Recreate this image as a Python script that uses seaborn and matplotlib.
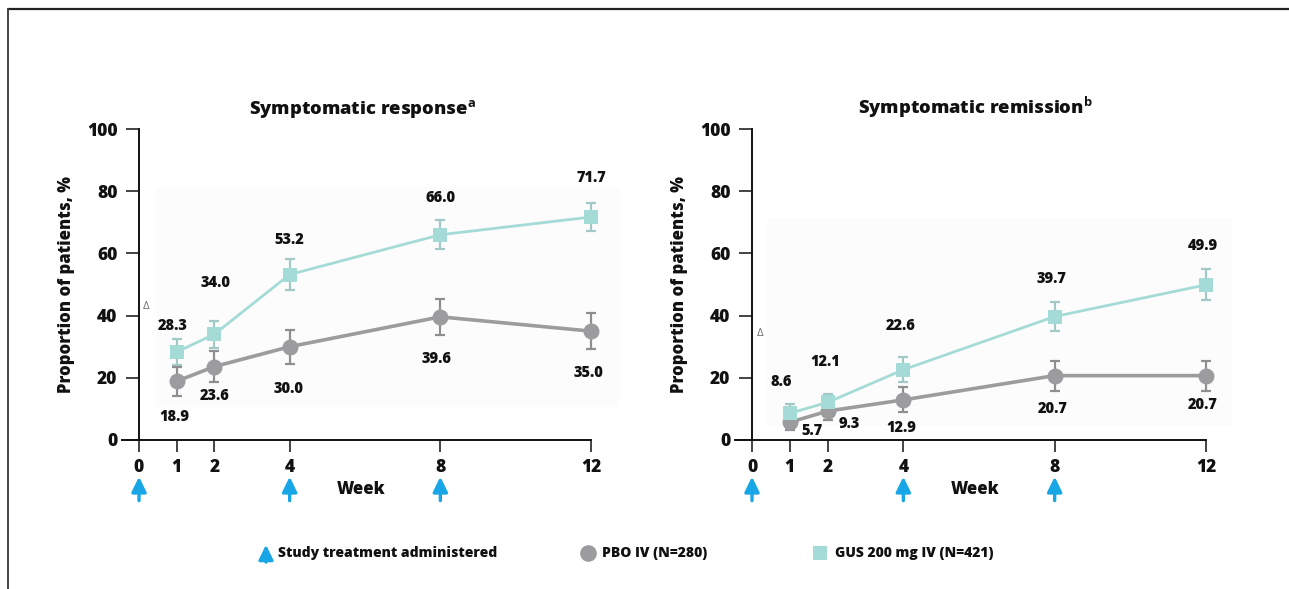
import matplotlib
matplotlib.use('Agg')
import matplotlib.pyplot as plt
import seaborn as sns
import pandas as pd
from matplotlib.lines import Line2D
from matplotlib.patches import Rectangle, FancyArrowPatch

# ---------------- data ----------------
weeks = [1, 2, 4, 8, 12]
tick_weeks = [0, 1, 2, 4, 8, 12]
dose_weeks = [0, 4, 8]
yticks = [0, 20, 40, 60, 80, 100]

resp_gus = [28.3, 34.0, 53.2, 66.0, 71.7]
resp_gus_err = [4.3, 4.3, 5.0, 4.7, 4.5]
resp_pbo = [18.9, 23.6, 30.0, 39.6, 35.0]
resp_pbo_err = [4.7, 5.0, 5.5, 5.8, 5.7]

rem_gus = [8.6, 12.1, 22.6, 39.7, 49.9]
rem_gus_err = [3.0, 2.8, 4.0, 4.8, 5.0]
rem_pbo = [5.7, 9.3, 12.9, 20.7, 20.7]
rem_pbo_err = [2.5, 3.0, 4.0, 4.8, 4.8]

titles = ['Symptomatic response', 'Symptomatic remission']
title_marks = ['a', 'b']
series_names = ['PBO IV (N=280)', 'GUS 200 mg IV (N=421)']
arrow_label = 'Study treatment administered'
x_label = 'Week'
y_label = 'Proportion of patients, %'
delta_sign = '\u0394'

# label offsets (pixels, dx, dy up) -- layout only
resp_gus_off = [(-4, 26), (1, 51), (0, 35), (0, 37), (0, 39)]
resp_pbo_off = [(-2, -36), (0, -29), (-1, -42), (-4, -42), (-3, -42)]
rem_gus_off = [(-9, 31), (-2, 40), (-3, 44), (-3, 38), (-3, 39)]
rem_pbo_off = [(22, -9), (22, -13), (-2, -28), (-2, -33), (-3, -29)]

# ---------------- style ----------------
sns.set_style('white')
plt.rcParams['font.family'] = ['Open Sans', 'DejaVu Sans']
plt.rcParams['font.weight'] = 'bold'
plt.rcParams['mathtext.fontset'] = 'custom'
plt.rcParams['mathtext.bf'] = 'Open Sans:bold'
plt.rcParams['mathtext.rm'] = 'Open Sans:bold'

GUS_C = '#a5dbd7'
GUS_ERR = '#a3c9c6'
PBO_C = '#9c9c9e'
PBO_ERR = '#8f8f91'
ARROW_C = '#19a6e6'
TXT = '#111111'
WT = 'heavy'

W, H = 1289, 589
fig = plt.figure(figsize=(W / 100, H / 100), dpi=100)
fig.patch.set_facecolor('white')


def fx(px):
    return px / W


def fy(py):
    return 1 - py / H


panels = [
    dict(left=122, y0px=139, right=591, gus=resp_gus, gerr=resp_gus_err, pbo=resp_pbo, perr=resp_pbo_err,
         goff=resp_gus_off, poff=resp_pbo_off, title=titles[0], mark=title_marks[0], tx=0.513,
         bg=(0.45, 10.5, 12.3, 71), delta=(0.19, 43)),
    dict(left=735, y0px=752, right=1206, gus=rem_gus, gerr=rem_gus_err, pbo=rem_pbo, perr=rem_pbo_err,
         goff=rem_gus_off, poff=rem_pbo_off, title=titles[1], mark=title_marks[1], tx=0.51,
         bg=(0.4, 4.5, 12.3, 67), delta=(0.23, 34.4)),
]

for p in panels:
    ax = fig.add_axes([fx(p['left']), fy(440), fx(p['right'] - p['left']), 311 / H])
    ppw = (p['right'] - p['y0px']) / 12.0
    xmin = -(p['y0px'] - p['left']) / ppw
    ax.set_xlim(xmin, 12)
    ax.set_ylim(0, 100)
    ax.set_facecolor('none')

    bx, by, bw, bh = p['bg']
    ax.add_patch(Rectangle((bx, by), bw, bh, facecolor='#fcfcfc', edgecolor='none', zorder=0, clip_on=False))

    df = pd.DataFrame({
        'week': weeks * 2,
        'value': p['pbo'] + p['gus'],
        'group': [series_names[0]] * len(weeks) + [series_names[1]] * len(weeks),
    })

    # error bars
    ax.errorbar(weeks, p['gus'], yerr=p['gerr'], fmt='none', ecolor=GUS_ERR, elinewidth=1.6,
                capsize=3.5, capthick=1.6, zorder=2, clip_on=False)
    ax.errorbar(weeks, p['pbo'], yerr=p['perr'], fmt='none', ecolor=PBO_ERR, elinewidth=1.6,
                capsize=3.5, capthick=1.6, zorder=2, clip_on=False)

    sns.lineplot(data=df[df.group == series_names[0]], x='week', y='value', ax=ax, color=PBO_C,
                 lw=2.6, marker='o', markersize=11.5, markeredgewidth=0, legend=False, zorder=3, clip_on=False)
    sns.lineplot(data=df[df.group == series_names[1]], x='week', y='value', ax=ax, color=GUS_C,
                 lw=2.0, marker='s', markersize=10, markeredgewidth=0, legend=False, zorder=4, clip_on=False)

    for x, v, (dx, dy) in zip(weeks, p['gus'], p['goff']):
        ax.annotate(f'{v:.1f}', xy=(x, v), xytext=(dx, dy), textcoords='offset pixels',
                    ha='center', va='center', fontsize=10.5, fontweight=WT, color=TXT, zorder=6,
                    annotation_clip=False)
    for x, v, (dx, dy) in zip(weeks, p['pbo'], p['poff']):
        ax.annotate(f'{v:.1f}', xy=(x, v), xytext=(dx, dy), textcoords='offset pixels',
                    ha='center', va='center', fontsize=10.5, fontweight=WT, color=TXT, zorder=6,
                    annotation_clip=False)

    dxp, dyp = p['delta']
    ax.text(dxp, dyp, delta_sign, fontsize=7, color='#777777', fontweight='normal',
            family=['DejaVu Sans'], ha='center', va='center')

    # spines / ticks
    sns.despine(ax=ax)
    ax.spines['left'].set_position(('data', 0))
    ax.spines['left'].set_linewidth(1.4)
    ax.spines['bottom'].set_linewidth(1.4)
    ax.spines['left'].set_color(TXT)
    ax.spines['bottom'].set_color(TXT)
    ax.set_xticks(tick_weeks)
    ax.set_xticklabels([str(t) for t in tick_weeks])
    ax.set_yticks(yticks)
    ax.set_yticklabels([str(t) for t in yticks])
    ax.tick_params(axis='y', direction='out', length=9.5, width=1.1, pad=6, labelsize=12.5, colors=TXT, left=True)
    ax.tick_params(axis='x', direction='out', length=8.5, width=1.1, pad=5, labelsize=12.5, colors=TXT, bottom=True)
    for lab in ax.get_xticklabels() + ax.get_yticklabels():
        lab.set_fontweight(WT)

    ax.set_xlabel('')
    ax.set_ylabel(y_label, fontsize=12, fontweight=WT, color=TXT)
    ax.yaxis.set_label_coords(-0.1, 0.5)

    ax.annotate(x_label, xy=(5.9, 0), xycoords=('data', 'axes fraction'), xytext=(0, -49),
                textcoords='offset pixels', ha='center', va='center', fontsize=12, fontweight=WT, color=TXT,
                annotation_clip=False)

    t = ax.set_title(p['title'] + r'$^{\mathbf{' + p['mark'] + '}}$', fontsize=13.2, fontweight=WT,
                     color=TXT, pad=11)
    t.set_x(p['tx'])

    for w in dose_weeks:
        ax.annotate('', xy=(w, -0.118), xycoords=('data', 'axes fraction'),
                    xytext=(w, -0.195), textcoords=('data', 'axes fraction'),
                    arrowprops=dict(arrowstyle='-|>,head_length=0.45,head_width=0.22', mutation_scale=20,
                                    lw=2.4, color=ARROW_C, shrinkA=0, shrinkB=0),
                    annotation_clip=False)

# ---------------- legend (manual) ----------------
ly = fy(553)
fig.add_artist(FancyArrowPatch((fx(266), fy(565)), (fx(266), fy(542)),
                               transform=fig.transFigure,
                               arrowstyle='-|>,head_length=0.45,head_width=0.22',
                               mutation_scale=20, lw=2.2, color=ARROW_C))
fig.text(fx(278), ly, arrow_label, fontsize=10, fontweight=WT, color=TXT, va='center', ha='left')
fig.add_artist(Line2D([fx(588)], [ly], marker='o', markersize=12, color=PBO_C, markeredgewidth=0,
                      transform=fig.transFigure))
fig.text(fx(602), ly, series_names[0], fontsize=10, fontweight=WT, color=TXT, va='center', ha='left')
fig.add_artist(Line2D([fx(820)], [ly], marker='s', markersize=10.5, color=GUS_C, markeredgewidth=0,
                      transform=fig.transFigure))
fig.text(fx(835), ly, series_names[1], fontsize=10, fontweight=WT, color=TXT, va='center', ha='left')

# ---------------- frame ----------------
fig.add_artist(Line2D([fx(8), 1.0], [fy(9), fy(9)], color='#222222', lw=1.6, transform=fig.transFigure))
fig.add_artist(Line2D([fx(8), fx(8)], [fy(9), 0.0], color='#444444', lw=1.4, transform=fig.transFigure))

fig.savefig('out.png', dpi=100, facecolor='white')
